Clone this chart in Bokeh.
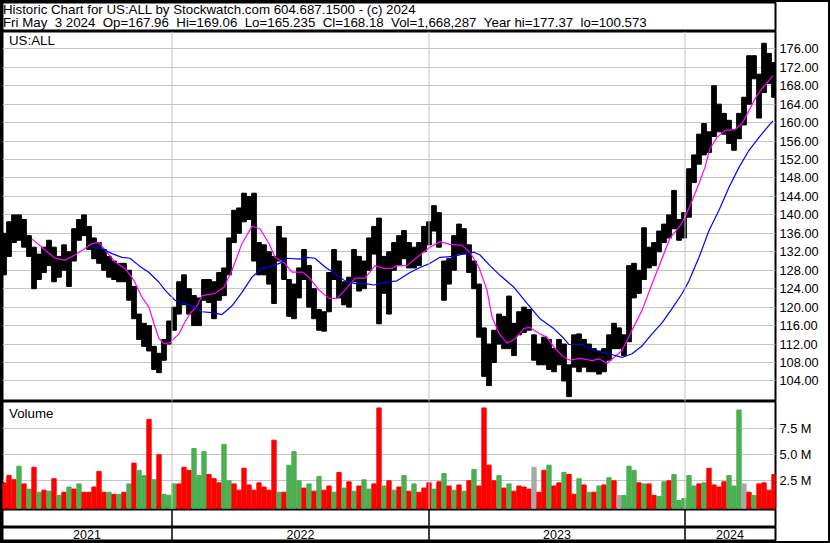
from bokeh.plotting import figure
from bokeh.models import Range1d, FixedTicker, PrintfTickFormatter, Label, Span, ColumnDataSource
from bokeh.layouts import column
from bokeh.embed import file_html
from bokeh.resources import INLINE
from bokeh.core.properties import value

FONT = "Liberation Sans"

# ---------------- data ----------------
# weekly bars: 5 trading days per bar, first trading day index = 5*i
days_per_bar = 5
week_high = [136, 138.5, 140, 140, 139, 135.5, 133, 131.5, 133, 134.5,
             133, 131, 133.5, 132, 137, 139, 140, 137.5, 135, 134,
             132.5, 131, 130, 129.5, 129.5, 128, 124.5, 118.5, 116.5, 116,
             111.5, 110, 113, 117, 120, 125.5, 127, 124, 122.5, 122,
             126, 126, 125.5, 127.5, 128.5, 135, 141, 141.5, 144.7, 144,
             144.7, 134, 133.5, 132, 131, 137.5, 135, 126, 125, 128.5,
             132.5, 129, 124, 119.5, 119, 127.5, 132.5, 130, 125.5, 126.5,
             132.5, 131, 130, 135, 137.5, 139.3, 131, 132, 134, 135.5,
             136.6, 134, 133, 134, 137.5, 138.5, 142, 140.5, 130, 130.5,
             135.5, 138, 137, 133.5, 130, 125, 115.5, 112, 115, 118.5,
             118, 122.4, 116.5, 119, 120, 119.5, 114, 112, 113.5, 113,
             111, 113, 112, 107.5, 114, 114.2, 113, 112, 111, 110.5,
             111, 114, 116.5, 115.5, 114, 129, 129.5, 128, 137.2, 133,
             134, 136.5, 138, 140, 145.3, 139, 140.5, 150, 153, 157.5,
             159.8, 158, 168, 164, 162, 160.5, 158.5, 162, 165.5, 174.5,
             174.5, 170.5, 177.2, 175, 173]
week_low = [127, 131, 134, 134.5, 133, 131, 124, 126, 127.5, 129,
            125.5, 126.5, 128, 124.5, 130, 134.5, 135.5, 132.5, 130.5, 129.5,
            128, 126.5, 126, 125.5, 125.5, 121.5, 117.5, 113, 111.5, 110.5,
            106.5, 105.8, 108.5, 112, 115, 118.5, 120.5, 118.5, 116, 116,
            121.5, 121, 117.5, 121.5, 122.5, 127, 134, 136, 138.5, 139,
            130, 127, 127, 125, 120.8, 130, 126, 118, 117.5, 122,
            126, 120, 117.5, 115, 114.8, 119, 126, 122, 120.5, 120,
            125.5, 123.5, 124, 128, 131.5, 116.4, 123, 118.5, 128, 129,
            130.5, 128.5, 128.5, 129, 132, 133.5, 136.5, 133, 121.5, 125,
            128, 131.5, 131.5, 127.5, 124, 113.5, 105, 103, 108, 112,
            111, 111, 109.5, 114, 114.5, 115, 108.5, 107.5, 107.5, 106.5,
            106, 107.5, 104, 100.6, 107, 106, 107, 106, 106, 105.5,
            106, 108.5, 111, 111, 109.5, 112.5, 122, 123, 126, 128.5,
            129, 132, 134, 135, 137, 134.5, 135, 139.5, 147, 151,
            153, 153.5, 157, 158, 157.5, 155.5, 154, 156.5, 159.5, 164,
            169.5, 161, 166.5, 168.5, 165.5]
# typical daily volume in each week, millions of shares
week_vol = [2.3, 3.0, 2.6, 3.9, 2.2, 1.7, 3.8, 1.4, 1.6, 1.5, 2.7, 1.1, 1.4, 1.9, 1.7, 2.2, 1.4, 1.4, 1.9, 3.4,
            1.4, 1.4, 1.2, 1.2, 1.4, 2.2, 4.2, 3.5, 3.0, 8.4, 2.6, 5.0, 1.2, 1.1, 2.2, 2.2, 3.8, 3.5, 5.6, 3.0,
            5.3, 3.1, 2.7, 2.3, 6.0, 2.5, 2.2, 1.6, 3.7, 2.1, 1.6, 2.3, 1.9, 1.6, 6.4, 1.4, 1.4, 4.0, 5.3, 2.5,
            1.8, 2.2, 1.5, 2.9, 1.6, 2.0, 1.4, 3.3, 1.8, 2.4, 1.5, 2.0, 2.6, 1.7, 2.2, 9.5, 2.0, 2.5, 1.6, 1.9,
            3.0, 1.5, 2.2, 1.4, 1.8, 2.3, 1.7, 2.4, 3.2, 2.0, 1.6, 2.1, 1.5, 2.5, 3.6, 2.0, 9.5, 4.0, 2.5, 3.0,
            1.8, 2.2, 1.5, 2.0, 1.9, 1.7, 3.8, 1.4, 3.5, 4.0, 2.0, 2.3, 3.3, 3.1, 1.2, 2.7, 2.1, 1.4, 1.4, 2.0,
            2.1, 2.8, 2.5, 1.1, 1.1, 3.9, 3.5, 2.3, 2.2, 2.2, 1.1, 1.0, 2.4, 2.5, 3.1, 0.6, 0.8, 3.0, 2.0, 2.2,
            2.3, 3.7, 2.1, 1.9, 2.4, 3.0, 2.0, 9.3, 2.2, 1.4, 1.1, 2.2, 2.3, 1.6, 3.1]
# direction of each week's bar: u = up, d = down, n = unchanged
week_dir = list("dddudududududududddd"
                "dudududuududuuudddu" "u"
                "uddduuddddddddduduuu"
                "dudud" "dudududuud" "dudud"
                "ududddududud" "udud" "dddudu"
                "ddddnddudduddudud" "u"
                "dudnuuududduuduuuuu"
                "dudddduuundudd")

fast_ma_day = [30, 43, 53, 63, 73, 83, 90, 97, 103, 113, 123, 132, 140, 147, 152, 157, 162, 168, 177, 182,
               188, 195, 200, 213, 222, 230, 240, 250, 258, 267, 273, 282, 290, 300, 307, 317, 327, 335, 343, 353,
               363, 373, 382, 390, 395, 405, 415, 428, 438, 448, 460, 468, 477, 485, 490, 497, 505, 513, 522, 528,
               537, 545, 552, 562, 568, 578, 590, 597, 605, 620, 630, 640, 650, 658, 668, 677, 683, 690, 697, 703,
               708, 715, 723, 733, 740, 747, 753, 760, 767, 771]
fast_ma = [134.8, 132.4, 130.6, 130.2, 131.3, 132.7, 133.8, 134.0, 132.4, 129.8, 128.4, 125.8, 122.1, 120.0, 116.4,
           113.2, 112.1, 112.3, 114.2, 116.4, 118.6, 120.3, 122.5, 123.0, 124.3, 128.0, 133.8, 137.5, 137.0, 133.8,
           130.8, 129.7, 127.6, 127.6, 126.5, 123.7, 121.9, 121.9, 123.7, 126.3, 126.3, 129.0, 128.4, 128.4, 129.0,
           129.0, 130.8, 133.0, 134.2, 133.6, 133.4, 131.9, 128.6, 123.7, 117.9, 114.3, 112.2, 113.1, 115.4, 115.6,
           114.3, 113.5, 111.3, 109.1, 108.5, 108.9, 108.4, 108.8, 107.8, 110.6, 115.0, 119.3, 125.0, 129.4, 135.0,
           137.3, 139.5, 143.0, 146.8, 150.3, 154.4, 156.8, 158.3, 158.5, 159.8, 162.6, 165.2, 167.4, 169.1, 170.2]
slow_ma_day = [90, 100, 110, 120, 128, 137, 147, 157, 163, 173, 183, 193, 200, 210, 220, 230, 240, 250, 260, 270,
               280, 285, 297, 305, 313, 323, 333, 343, 353, 363, 372, 382, 395, 408, 418, 428, 438, 452, 462, 472,
               478, 488, 498, 512, 525, 538, 552, 562, 567, 580, 593, 607, 620, 630, 640, 650, 660, 670, 680, 687,
               697, 707, 717, 727, 737, 747, 757, 767, 771]
slow_ma = [133.0, 132.7, 131.6, 130.8, 130.6, 129.0, 127.5, 125.4, 123.7, 121.5, 120.8, 120.0, 119.0, 118.8, 118.4,
           120.3, 123.2, 126.5, 128.4, 128.9, 129.7, 130.6, 130.4, 130.8, 130.6, 128.7, 127.3, 125.7, 125.1, 125.1,
           124.8, 125.3, 125.7, 127.5, 128.6, 129.5, 130.8, 131.0, 131.6, 131.9, 131.3, 129.0, 126.9, 124.3, 120.8,
           117.5, 115.3, 113.2, 111.9, 111.9, 110.6, 109.9, 109.1, 109.9, 111.6, 114.2, 116.6, 119.7, 122.9, 125.7,
           130.8, 136.6, 141.0, 146.0, 150.3, 154.0, 156.8, 159.4, 160.4]

price_ticks = [104, 108, 112, 116, 120, 124, 128, 132, 136, 140, 144, 148, 152, 156, 160, 164, 168, 172, 176]
vol_ticks = [2.5, 5.0, 7.5]
year_labels = ["2021", "2022", "2023", "2024"]
year_first_day = [0, 170, 427, 683]
last_day = 773

title_line1 = "Historic Chart for US:ALL by Stockwatch.com 604.687.1500 - (c) 2024"
title_line2 = ("Fri May \u00a03 2024 \u00a0Op=167.96 \u00a0Hi=169.06 \u00a0Lo=165.235 \u00a0Cl=168.18"
               " \u00a0Vol=1,668,287 \u00a0Year hi=177.37 \u00a0lo=100.573")

# ---------------- layout constants ----------------
W = 826          # inside a 2px page border -> 830 total
RIGHT = 53
H_HDR, H_PRICE, H_VOL, H_BAND, H_YEAR = 29, 370, 108, 18, 14
GRID = "#c4c4c4"
UP, DOWN, FLAT = "#4caf50", "#ff0000", "#a8a8a8"
FS = "13.3px"

n = len(week_high)
centers = [days_per_bar * i + 2 for i in range(n)]
dir_color = {"u": UP, "d": DOWN, "n": FLAT}
vcolors = [dir_color[d] for d in week_dir[:n]]
while len(vcolors) < n:
    vcolors.append(DOWN)

x_range = Range1d(0.5, last_day + 0.5)


def base(height, with_right=True, **kw):
    p = figure(width=W, height=height, toolbar_location=None, output_backend="svg",
               min_border_left=0, min_border_top=0, min_border_bottom=0,
               min_border_right=RIGHT if with_right else 0, **kw)
    p.outline_line_color = "black"
    p.outline_line_width = 2
    p.background_fill_color = "white"
    p.border_fill_color = "white"
    return p


# header
hdr = base(H_HDR, with_right=False, x_range=Range1d(0, W), y_range=Range1d(0, H_HDR),
           x_axis_location=None, y_axis_location=None)
hdr.grid.visible = False
hdr.add_layout(Label(x=0.5, y=H_HDR - 7.3, text=title_line1, text_font=FONT, text_font_size=FS,
                     text_baseline="alphabetic", text_color="black"))
hdr.add_layout(Label(x=0.5, y=H_HDR - 20.4, text=title_line2, text_font=FONT, text_font_size=FS,
                     text_baseline="alphabetic", text_color="black"))

# price panel
pp = base(H_PRICE, x_range=x_range, y_range=Range1d(99.55, 179.75),
          x_axis_location=None, y_axis_location="right")
pp.yaxis.ticker = FixedTicker(ticks=price_ticks)
pp.yaxis.formatter = PrintfTickFormatter(format="%.2f")
pp.ygrid.ticker = FixedTicker(ticks=price_ticks)
pp.ygrid.grid_line_color = GRID
for d in year_first_day[1:]:
    pp.add_layout(Span(location=d, dimension="height", line_color=GRID, line_width=1))
src = ColumnDataSource(dict(x=centers, top=week_high, bottom=week_low))
pp.vbar(x="x", top="top", bottom="bottom", width=4.7, source=src, color="black")
pp.line(fast_ma_day, fast_ma, line_color="#ff00ff", line_width=1.2)
pp.line(slow_ma_day, slow_ma, line_color="#0000ff", line_width=1.2)
pp.add_layout(Label(x=7, y=176.15, text="US:ALL", text_font=FONT, text_font_size=FS,
                    text_color="black"))

# volume panel
vp = base(H_VOL, x_range=x_range, y_range=Range1d(-0.26, 10.12),
          x_axis_location=None, y_axis_location="right")
vp.yaxis.ticker = FixedTicker(ticks=vol_ticks)
vp.yaxis.formatter = PrintfTickFormatter(format="%.1f M")
vp.ygrid.ticker = FixedTicker(ticks=vol_ticks)
vp.ygrid.grid_line_color = GRID
for d in year_first_day[1:]:
    vp.add_layout(Span(location=d, dimension="height", line_color=GRID, line_width=1))
vsrc = ColumnDataSource(dict(x=centers, top=week_vol, c=vcolors))
vp.vbar(x="x", top="top", bottom=-0.15, width=4.3, source=vsrc, color="c")
vp.add_layout(Label(x=7, y=8.25, text="Volume", text_font=FONT, text_font_size=FS,
                    text_color="black"))

for p in (pp, vp):
    ax = p.yaxis[0]
    ax.axis_line_color = None
    ax.major_tick_line_color = None
    ax.minor_tick_line_color = None
    ax.major_tick_out = 0
    ax.major_tick_in = 0
    ax.minor_tick_out = 0
    ax.minor_tick_in = 0
    ax.major_label_standoff = 4
    ax.major_label_text_font = FONT
    ax.major_label_text_font_size = "12.8px"
    ax.major_label_text_color = "black"
    p.xgrid.visible = False

# empty band and year row
band = base(H_BAND, x_range=x_range, y_range=Range1d(0, 1), x_axis_location=None, y_axis_location=None)
band.grid.visible = False
yrs = base(H_YEAR, x_range=x_range, y_range=Range1d(0, 1), x_axis_location=None, y_axis_location=None)
yrs.grid.visible = False
for p in (band, yrs):
    p.segment(x0=year_first_day[1:], x1=year_first_day[1:], y0=0, y1=1,
              line_color="black", line_width=1.5)
bounds = year_first_day + [last_day]
mids = [(bounds[k] + bounds[k + 1]) / 2 for k in range(len(year_labels))]
yrs.text(x=mids, y=[0.5] * len(mids), text=year_labels, text_align="center",
         text_baseline="middle", text_font=value(FONT), text_font_size="12.5px", text_color="black")

layout = column(hdr, pp, vp, band, yrs, spacing=0,
                styles={"border": "2px solid black", "width": "fit-content"})

open("out.html", "w").write(file_html(layout, INLINE))
